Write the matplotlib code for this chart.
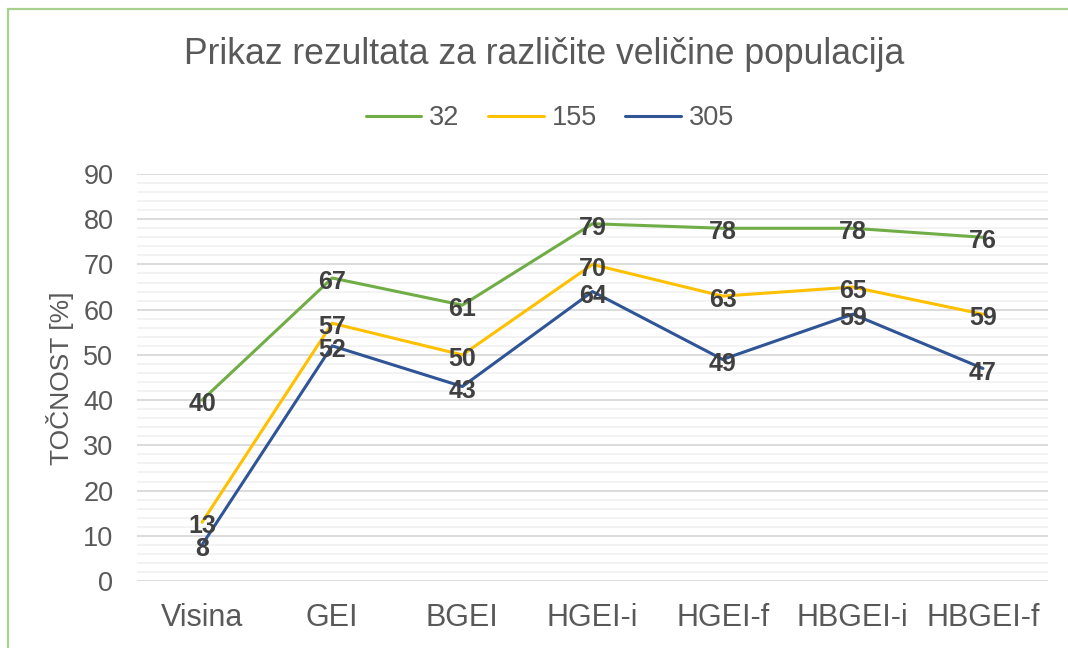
import matplotlib
matplotlib.use("Agg")
import matplotlib.pyplot as plt
from matplotlib.patches import Rectangle
from matplotlib.ticker import MultipleLocator

# Categories and accuracy (%) per population size
categories = ["Visina", "GEI", "BGEI", "HGEI-i", "HGEI-f", "HBGEI-i", "HBGEI-f"]
pop_32 = [40, 67, 61, 79, 78, 78, 76]
pop_155 = [13, 57, 50, 70, 63, 65, 59]
pop_305 = [8, 52, 43, 64, 49, 59, 47]
series_names = ["32", "155", "305"]

title = "Prikaz rezultata za različite veličine populacija"
ylabel = "TOČNOST [%]"

plt.rcParams["font.family"] = ["Liberation Sans", "DejaVu Sans"]
text_gray = "#595959"
label_gray = "#404040"
colors = ["#70AD47", "#FFC000", "#2F5597"]

W, H = 1068, 648
fig = plt.figure(figsize=(W / 100, H / 100), dpi=100)
fig.patch.set_facecolor("white")

# plot area in pixel units converted to figure fractions
left, right, top, bottom = 137, 1048, 174, 581
ax = fig.add_axes([left / W, 1 - bottom / H, (right - left) / W, (bottom - top) / H])

x = list(range(len(categories)))
for vals, name, c in zip([pop_32, pop_155, pop_305], series_names, colors):
    ax.plot(x, vals, color=c, lw=2.2, label=name, solid_capstyle="round", zorder=3)
    for xi, v in zip(x, vals):
        ax.annotate(f"{v}", (xi, v), xytext=(0, -3), textcoords="offset points",
                    ha="center", va="center", fontsize=18, fontweight="bold",
                    color=label_gray, zorder=4)

ax.set_xlim(-0.5, len(categories) - 0.5)
ax.set_ylim(0, 90)
ax.yaxis.set_major_locator(MultipleLocator(10))
ax.yaxis.set_minor_locator(MultipleLocator(2))
ax.grid(axis="y", which="major", color="#D9D9D9", lw=1.3, zorder=1)
ax.grid(axis="y", which="minor", color="#F2F2F2", lw=1.3, zorder=0)
ax.set_xticks(x)
ax.set_xticklabels(categories)
ax.tick_params(axis="both", which="both", length=0, colors=text_gray)
ax.tick_params(axis="y", labelsize=19.5, pad=17)
ax.tick_params(axis="x", labelsize=22, pad=16)
for s in ax.spines.values():
    s.set_visible(False)

fig.text(60 / W, 1 - 378 / H, ylabel, rotation=90, ha="center", va="center",
         fontsize=19, color=text_gray)

fig.text(544 / W, 1 - 55 / H, title, ha="center", va="center",
         fontsize=25.6, color=text_gray)

leg = fig.legend(loc="center", bbox_to_anchor=(550 / W, 1 - 118 / H), ncol=3,
                 frameon=False, fontsize=19.5, handlelength=2.05, columnspacing=1.05,
                 handletextpad=0.3)
for t in leg.get_texts():
    t.set_color(text_gray)

# chart border
fig.patches.append(Rectangle((8 / W, -0.1), 1.2, 1 - 9 / H + 0.1, transform=fig.transFigure,
                             fill=False, edgecolor="#A9D18E", lw=1.6))

fig.savefig("out.png", dpi=100)
